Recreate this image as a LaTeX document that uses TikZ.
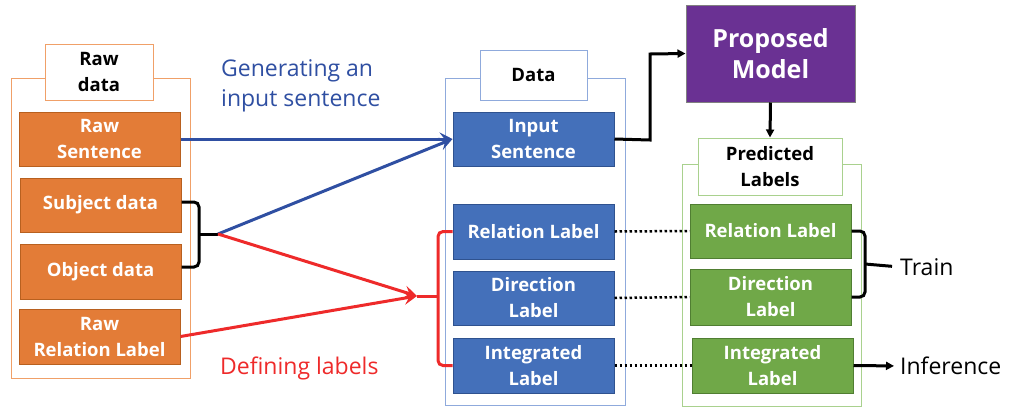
\documentclass[tikz,border=0pt]{standalone}
\usepackage{fontspec}
\setmainfont{Open Sans}
\usetikzlibrary{arrows.meta}
\definecolor{orgF}{HTML}{E37C37}
\definecolor{orgD}{HTML}{B8601F}
\definecolor{orgL}{HTML}{F0A068}
\definecolor{bluF}{HTML}{4470BA}
\definecolor{bluD}{HTML}{2F528F}
\definecolor{bluL}{HTML}{8FAADC}
\definecolor{grnF}{HTML}{70A848}
\definecolor{grnD}{HTML}{507E32}
\definecolor{grnL}{HTML}{A9D18E}
\definecolor{purF}{HTML}{6A3193}
\definecolor{arrB}{HTML}{2F4FA2}
\definecolor{arrR}{HTML}{EE2A2A}
\tikzset{
  boxtxt/.style={font=\bfseries\fontsize{18.5}{26}\selectfont, align=center, text=white},
  filled/.style={boxtxt, rectangle, draw=#1D, fill=#1F, line width=1pt, minimum width=161pt, minimum height=54pt, inner sep=0pt},
  frame/.style={rectangle, draw=#1, line width=1pt, inner sep=0pt},
  titlebox/.style={rectangle, draw=#1, fill=white, line width=1pt, inner sep=0pt, font=\bfseries\fontsize{18.5}{26}\selectfont, align=center},
  note/.style={font=\fontsize{23}{30}\selectfont, align=left, inner sep=0pt},
  thick3/.style={line width=3pt},
  dotline/.style={line width=2.5pt, dash pattern=on 2.5pt off 2.5pt},
  bighead/.style={-{Stealth[length=13pt,width=13pt,inset=5pt]}},
  smallhead/.style={-{Triangle[length=8pt,width=8pt]}},
}
\begin{document}
\begin{tikzpicture}[x=1pt,y=-1pt]
\useasboundingbox (0,0) rectangle (1010,408);

% raw data group
\node[frame=orgL, minimum width=179pt, minimum height=300pt] (rawframe) at (100.5,228) {};
\node[titlebox=orgL, minimum width=108pt, minimum height=56pt] (rawtitle) at (99,72) {Raw\\data};
\node[filled=org] (rawsent) at (99.5,139) {Raw\\Sentence};
\node[filled=org] (subj) at (100.5,205) {Subject data};
\node[filled=org, minimum height=55pt] (obj) at (100.5,271.5) {Object data};
\node[filled=org, minimum height=55pt] (rawrel) at (99.5,336.5) {Raw\\Relation Label};

% data group
\node[frame=bluL, minimum width=180pt, minimum height=327pt] (dataframe) at (535,241.5) {};
\node[titlebox=bluL, minimum width=107pt, minimum height=50pt] (datatitle) at (533.5,75) {Data};
\node[filled=blu] (insent) at (533.5,139) {Input\\Sentence};
\node[filled=blu, minimum height=55pt] (rel) at (533.5,231.5) {Relation Label};
\node[filled=blu] (dir) at (533.5,298) {Direction\\Label};
\node[filled=blu, minimum height=55pt] (integ) at (533.5,365.5) {Integrated\\Label};

% model and predictions
\node[rectangle, draw=gray, fill=purF, line width=1pt, minimum width=169pt, minimum height=97pt,
      text=white, font=\bfseries\fontsize{25}{31}\selectfont, align=center] (model) at (770.5,53.5) {Proposed\\Model};
\node[frame=grnL, minimum width=179pt, minimum height=242pt] (predframe) at (771.5,285) {};
\node[titlebox=grnL, minimum width=144pt, minimum height=57pt] (predtitle) at (770,166.5) {Predicted\\Labels};
\node[filled=grn] (prel) at (770.5,231) {Relation Label};
\node[filled=grn, minimum height=56pt] (pdir) at (770.5,297) {Direction\\Label};
\node[filled=grn, minimum height=55pt] (pint) at (772.5,365.5) {Integrated\\Label};

% annotations
\node[note, text=arrB, anchor=north west] (gen) at (221,59) {Generating an\\input sentence};
\node[note, text=arrR, anchor=west] (def) at (220,368) {Defining labels};
\node[note, anchor=west] (train) at (900,267) {Train};
\node[note, anchor=west] (infer) at (900,366) {Inference};

% helper points
\coordinate (bracetip) at (218,234);
\coordinate (redjoin) at (417,296);

% brace joining subject and object data
\draw[thick3, rounded corners=5pt] (subj.east |- 0,202) -- (199,202) -- (199,267) -- (obj.east |- 0,267);
\draw[thick3] (199,234) -- (bracetip);

% input sentence arrows
\draw[thick3, arrB, bighead] (rawsent.east) -- (insent.west);
\draw[thick3, arrB, bighead] (bracetip) -- (insent.west);

% label arrows
\draw[thick3, arrR, bighead] (bracetip) -- (redjoin);
\draw[thick3, arrR, bighead] (rawrel.east) -- (redjoin);
\draw[thick3, arrR, rounded corners=5pt] (rel.west) -- (438,231.5) -- (438,365.5) -- (integ.west);
\draw[thick3, arrR] (redjoin) -- (438,296);

% model connections
\draw[thick3, smallhead] (insent.east) -- (650,140) -- (650,54) -- (model.west);
\draw[thick3, smallhead] (model.south) -- (predtitle.north);

% correspondences
\draw[dotline] (rel.east) -- (prel.west);
\draw[dotline] (dir.east) -- (pdir.west);
\draw[dotline] (integ.east) -- (pint.west);

% train brace and inference arrow
\draw[thick3, rounded corners=5pt] (prel.east) -- (865,231) -- (865,297) -- (pdir.east);
\draw[thick3, shorten >=8pt] (865,264) -- (train.west);
\draw[thick3, smallhead, shorten >=6pt] (pint.east) -- (infer.west);
\end{tikzpicture}
\end{document}
